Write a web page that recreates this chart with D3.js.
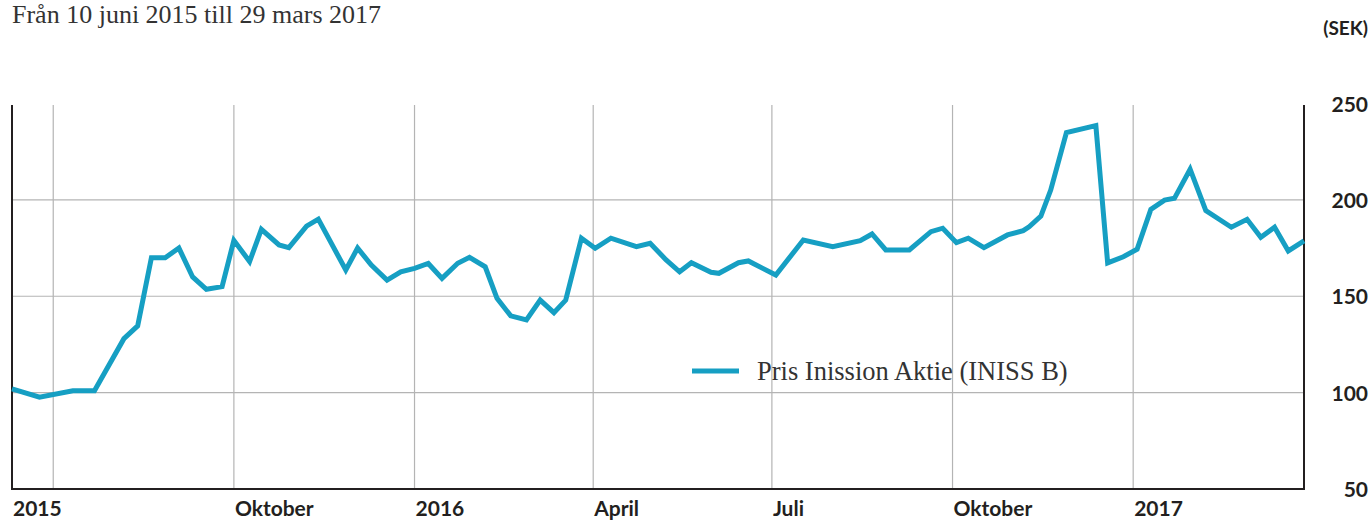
<!DOCTYPE html>
<html>
<head>
<meta charset="utf-8">
<script src="https://cdn.jsdelivr.net/npm/d3@7"></script>
<style>
  body { margin: 0; background: #fff; }
</style>
</head>
<body>
<svg id="chart"></svg>
<script>
// datum och kurs (SEK)
const dates = [
  "2015-06-10", "2015-06-24", "2015-07-11", "2015-07-22", "2015-08-06", "2015-08-13",
  "2015-08-20", "2015-08-27", "2015-09-03", "2015-09-10", "2015-09-17", "2015-09-25",
  "2015-10-01", "2015-10-09", "2015-10-15", "2015-10-24", "2015-10-29", "2015-11-07",
  "2015-11-13", "2015-11-27", "2015-12-03", "2015-12-10", "2015-12-18", "2015-12-25",
  "2016-01-01", "2016-01-08", "2016-01-15", "2016-01-23", "2016-01-29", "2016-02-06",
  "2016-02-12", "2016-02-19", "2016-02-27", "2016-03-05", "2016-03-12", "2016-03-18",
  "2016-03-26", "2016-04-02", "2016-04-10", "2016-04-23", "2016-04-30", "2016-05-08",
  "2016-05-15", "2016-05-21", "2016-05-31", "2016-06-04", "2016-06-14", "2016-06-19",
  "2016-07-03", "2016-07-17", "2016-08-01", "2016-08-15", "2016-08-21", "2016-08-28",
  "2016-09-09", "2016-09-20", "2016-09-26", "2016-10-03", "2016-10-09", "2016-10-17",
  "2016-10-29", "2016-11-06", "2016-11-09", "2016-11-15", "2016-11-20", "2016-11-28",
  "2016-12-13", "2016-12-19", "2016-12-27", "2017-01-03", "2017-01-10", "2017-01-17",
  "2017-01-22", "2017-01-30", "2017-02-07", "2017-02-20", "2017-02-28", "2017-03-07",
  "2017-03-14", "2017-03-21", "2017-03-29"
];

const prices = [
  102, 97.6, 101, 101, 128, 134.6,
  170, 170, 175, 160, 153.6, 155,
  179, 168, 184.7, 176.6, 175.2, 186.4,
  190, 163.6, 175, 166.2, 158.4, 162.7,
  164.5, 167, 159.3, 167.1, 170.2, 165.3,
  148.9, 139.8, 137.7, 148, 141.5, 148,
  180.1, 174.9, 180.1, 175.7, 177.5, 169,
  162.7, 167.4, 162.4, 161.9, 167.4, 168.3,
  161, 179.2, 175.7, 178.8, 182.3, 174,
  174, 183.5, 185.3, 177.8, 180.1, 175.2,
  181.8, 184, 186, 191.6, 205.1, 234.9,
  238.5, 167.3, 170.5, 174.4, 195.1, 199.9,
  200.8, 215.9, 194.4, 185.8, 189.9, 180.6,
  185.8, 173.5, 178.7
];

const yTicks = [50, 100, 150, 200, 250];
const xTickDates = ["2015-06-10", "2015-10-01", "2016-01-01", "2016-04-01", "2016-07-01", "2016-10-01", "2017-01-01"];
const xTickLabels = ["2015", "Oktober", "2016", "April", "Juli", "Oktober", "2017"];
const gridDates = ["2015-07-01", "2015-10-01", "2016-01-01", "2016-04-01", "2016-07-01", "2016-10-01", "2017-01-01"];

const title = "Från 10 juni 2015 till 29 mars 2017";
const unit = "(SEK)";
const seriesName = "Pris Inission Aktie (INISS B)";

const parse = d3.timeParse("%Y-%m-%d");
const data = dates.map((d, i) => ({ date: parse(d), value: prices[i] }));

const width = 1372, height = 522;
const plotLeft = 12, plotRight = 1304, plotTop = 103.5, plotBottom = 489;
const lineColor = "#169fc3";
const boldFont = "Lato, 'DejaVu Sans', sans-serif";
const serifFont = "'Liberation Serif', 'DejaVu Serif', serif";

const svg = d3.select("#chart")
    .attr("width", width)
    .attr("height", height);

const x = d3.scaleTime()
    .domain([parse("2015-06-10"), parse("2017-03-29")])
    .range([plotLeft, plotRight]);

const y = d3.scaleLinear()
    .domain([50, 250])
    .range([plotBottom, plotTop]);

// rutnät
svg.append("g")
    .selectAll("line")
    .data(yTicks.filter(t => t > 50 && t < 250))
    .join("line")
    .attr("x1", plotLeft)
    .attr("x2", plotRight)
    .attr("y1", d => y(d))
    .attr("y2", d => y(d))
    .style("stroke", "#b4b4b4")
    .style("stroke-width", 1.2);

svg.append("g")
    .selectAll("line")
    .data(gridDates)
    .join("line")
    .attr("x1", d => x(parse(d)))
    .attr("x2", d => x(parse(d)))
    .attr("y1", 105)
    .attr("y2", plotBottom)
    .style("stroke", "#b4b4b4")
    .style("stroke-width", 1.2);

// axellinjer
svg.append("path")
    .attr("d", `M${plotLeft},105 V${plotBottom} H${plotRight} V105`)
    .style("fill", "none")
    .style("stroke", "#231f20")
    .style("stroke-width", 2);

// x-etiketter
svg.append("g")
    .selectAll("text")
    .data(xTickDates)
    .join("text")
    .attr("x", d => x(parse(d)) + 1)
    .attr("y", 516)
    .text((d, i) => xTickLabels[i])
    .style("font-family", boldFont)
    .style("font-weight", "bold")
    .style("font-size", "21px")
    .style("fill", "#231f20");

// y-etiketter
svg.append("g")
    .selectAll("text")
    .data(yTicks)
    .join("text")
    .attr("x", 1368)
    .attr("y", d => y(d) + 8)
    .attr("text-anchor", "end")
    .text(d => d)
    .style("font-family", boldFont)
    .style("font-weight", "bold")
    .style("font-size", "21px")
    .style("fill", "#231f20");

svg.append("text")
    .attr("x", 1368)
    .attr("y", 35)
    .attr("text-anchor", "end")
    .text(unit)
    .style("font-family", boldFont)
    .style("font-weight", "bold")
    .style("font-size", "19px")
    .style("fill", "#231f20");

// rubrik
svg.append("text")
    .attr("x", 12)
    .attr("y", 23)
    .text(title)
    .style("font-family", serifFont)
    .style("font-size", "26px")
    .style("fill", "#333");

// kurslinje
const line = d3.line()
    .x(d => x(d.date))
    .y(d => y(d.value));

svg.append("path")
    .datum(data)
    .attr("d", line)
    .style("fill", "none")
    .style("stroke", lineColor)
    .style("stroke-width", 5)
    .style("stroke-linejoin", "miter");

// förklaring
svg.append("line")
    .attr("x1", 692)
    .attr("x2", 739)
    .attr("y1", 371)
    .attr("y2", 371)
    .style("stroke", lineColor)
    .style("stroke-width", 5);

svg.append("text")
    .attr("x", 757)
    .attr("y", 380)
    .text(seriesName)
    .style("font-family", serifFont)
    .style("font-size", "26.5px")
    .style("fill", "#333");
</script>
</body>
</html>
